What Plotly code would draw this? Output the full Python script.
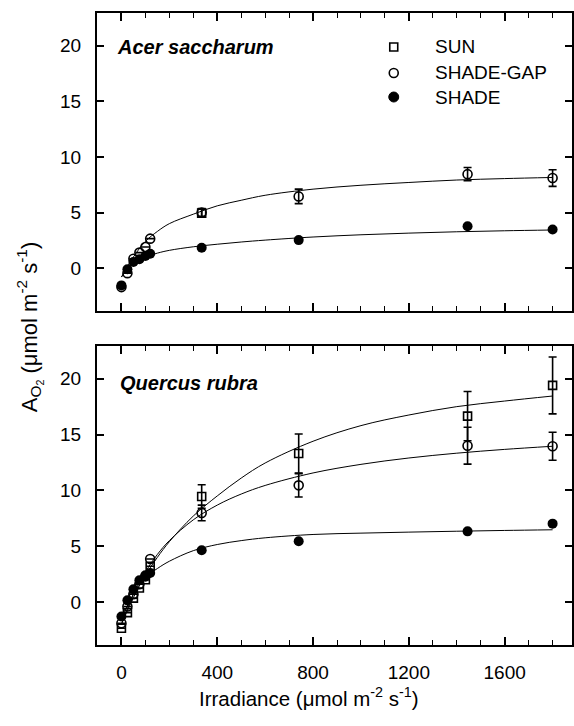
import plotly.graph_objects as go

# ---------------- data ----------------
irr = [0, 25, 50, 75, 100, 120, 335, 740, 1445, 1800]

# Acer saccharum
acer_sun_x = [335]
acer_sun = [4.95]
acer_sun_err = [0.35]
acer_gap = [-1.7, -0.45, 0.85, 1.4, 1.9, 2.65, 5.0, 6.45, 8.45, 8.1]
acer_gap_err = [None, None, None, None, None, None, 0.35, 0.65, 0.6, 0.75]
acer_shade = [-1.55, -0.1, 0.55, 0.8, 1.1, 1.3, 1.83, 2.52, 3.77, 3.47]

# Quercus rubra
q_sun = [-2.35, -0.95, 0.35, 1.25, 2.0, 3.2, 9.45, 13.3, 16.65, 19.4]
q_sun_err = [None, None, None, None, None, None, 1.05, 1.75, 2.2, 2.55]
q_gap = [-1.9, -0.4, 0.7, 1.6, 2.3, 3.85, 7.98, 10.45, 14.0, 13.95]
q_gap_err = [None, None, None, None, None, None, 0.7, 1.05, 1.65, 1.25]
q_shade = [-1.3, 0.15, 1.15, 1.95, 2.4, 2.6, 4.63, 5.44, 6.33, 7.02]

# fitted curves
fit_x = [0, 50, 100, 150, 200, 300, 400, 500, 600, 800, 1000, 1200, 1400, 1600, 1800]
acer_fit_upper = [-0.8, 1.0, 2.4, 3.3, 4.0, 4.85, 5.6, 6.1, 6.55, 7.1, 7.45, 7.7, 7.92, 8.05, 8.15]
acer_fit_lower = [-0.8, 0.45, 1.0, 1.35, 1.6, 1.92, 2.15, 2.35, 2.52, 2.8, 3.0, 3.15, 3.27, 3.36, 3.43]
q_fit_sun = [-2.0, 0.4, 2.4, 4.0, 5.4, 7.7, 9.5, 11.1, 12.45, 14.4, 15.8, 16.75, 17.5, 18.0, 18.45]
q_fit_gap = [-2.0, 0.69, 2.7, 4.26, 5.5, 7.36, 8.68, 9.67, 10.44, 11.56, 12.33, 12.9, 13.33, 13.67, 13.95]
q_fit_shade = [-1.5, 0.7, 2.2, 3.0, 3.65, 4.6, 5.15, 5.5, 5.75, 6.05, 6.17, 6.26, 6.34, 6.41, 6.47]

legend_labels = ["SUN", "SHADE-GAP", "SHADE"]
y_ticks = [0, 5, 10, 15, 20]
x_ticks = [0, 400, 800, 1200, 1600]

FONT = "Liberation Sans, Arial, Helvetica, sans-serif"
BLACK = "black"

fig = go.Figure()


def fit_line(x, y, xa, ya):
    fig.add_trace(go.Scatter(x=x, y=y, mode="lines", xaxis=xa, yaxis=ya,
                             line=dict(color=BLACK, width=1, shape="spline", smoothing=1.0),
                             showlegend=False, hoverinfo="skip"))


def err(arr):
    return dict(type="data", array=arr, visible=True, color=BLACK, thickness=1.6, width=4)


SQ = dict(symbol="square-open", size=8, color=BLACK, line=dict(width=1.6))
OC = dict(symbol="circle-open", size=9, color=BLACK, line=dict(width=1.6))
FC = dict(symbol="circle", size=10, color=BLACK)

# ----- top panel (Acer saccharum) -----
fit_line(fit_x, acer_fit_upper, "x", "y")
fit_line(fit_x, acer_fit_lower, "x", "y")
fig.add_trace(go.Scatter(x=acer_sun_x, y=acer_sun, mode="markers", xaxis="x", yaxis="y",
                         name=legend_labels[0], error_y=err(acer_sun_err), marker=SQ))
fig.add_trace(go.Scatter(x=irr, y=acer_gap, mode="markers", xaxis="x", yaxis="y",
                         name=legend_labels[1], error_y=err(acer_gap_err), marker=OC))
fig.add_trace(go.Scatter(x=irr, y=acer_shade, mode="markers", xaxis="x", yaxis="y",
                         name=legend_labels[2], marker=FC))

# ----- bottom panel (Quercus rubra) -----
fit_line(fit_x, q_fit_sun, "x2", "y2")
fit_line(fit_x, q_fit_gap, "x2", "y2")
fit_line(fit_x, q_fit_shade, "x2", "y2")
fig.add_trace(go.Scatter(x=irr, y=q_sun, mode="markers", xaxis="x2", yaxis="y2",
                         name=legend_labels[0], error_y=err(q_sun_err), marker=SQ))
fig.add_trace(go.Scatter(x=irr, y=q_gap, mode="markers", xaxis="x2", yaxis="y2",
                         name=legend_labels[1], error_y=err(q_gap_err), marker=OC))
fig.add_trace(go.Scatter(x=irr, y=q_shade, mode="markers", xaxis="x2", yaxis="y2",
                         name=legend_labels[2], marker=FC))

# ----- geometry helpers -----
L, R, T, B = 97, 0, 13, 81
W, H = 574, 726
PH = H - T - B
PW = W - L - R


def py(pix):
    return (H - B - pix) / PH


def px(pix):
    return (pix - L) / PW


xcommon = dict(range=[-102, 1881], tickvals=x_ticks, ticks="inside", ticklen=8, tickwidth=1.5,
               showline=True, linewidth=2, linecolor=BLACK, mirror="allticks", tickcolor=BLACK,
               showgrid=False, zeroline=False,
               minor=dict(dtick=100, tick0=0, ticks="inside", ticklen=5, tickwidth=1.3,
                          tickcolor=BLACK, showgrid=False),
               tickfont=dict(family=FONT, size=19, color=BLACK), ticklabelstandoff=9)
ycommon = dict(range=[-3.85, 22.93], tickvals=y_ticks, ticks="inside", ticklen=7, tickwidth=1.5,
               showline=True, linewidth=2, linecolor=BLACK, mirror="allticks", tickcolor=BLACK,
               showgrid=False, zeroline=False,
               tickfont=dict(family=FONT, size=19, color=BLACK), ticklabelstandoff=10)

top_dom = [py(311), 1.0]
bot_dom = [0.0, py(346)]

# ----- manual legend (glyphs + labels) -----
leg_rows = [47, 73, 97]
leg_sym_x = 395
shapes = [
    dict(type="rect", xref="paper", yref="paper",
         x0=px(leg_sym_x - 4), x1=px(leg_sym_x + 4), y0=py(leg_rows[0] + 4), y1=py(leg_rows[0] - 4),
         line=dict(color=BLACK, width=1.6), fillcolor="rgba(0,0,0,0)"),
    dict(type="circle", xref="paper", yref="paper",
         x0=px(leg_sym_x - 4.5), x1=px(leg_sym_x + 4.5), y0=py(leg_rows[1] + 4.5), y1=py(leg_rows[1] - 4.5),
         line=dict(color=BLACK, width=1.6), fillcolor="rgba(0,0,0,0)"),
    dict(type="circle", xref="paper", yref="paper",
         x0=px(leg_sym_x - 5), x1=px(leg_sym_x + 5), y0=py(leg_rows[2] + 5), y1=py(leg_rows[2] - 5),
         line=dict(color=BLACK, width=1), fillcolor=BLACK),
]

annotations = [
    dict(text=f"{lab}", xref="paper", yref="paper", x=px(434), y=py(row),
         xanchor="left", yanchor="middle", showarrow=False,
         font=dict(family=FONT, size=19, color=BLACK))
    for lab, row in zip(legend_labels, leg_rows)
]
annotations += [
    dict(text="<b><i>Acer saccharum</i></b>", xref="paper", yref="paper",
         x=px(115), y=py(47), xanchor="left", yanchor="middle", showarrow=False,
         font=dict(family=FONT, size=20, color=BLACK)),
    dict(text="<b><i>Quercus rubra</i></b>", xref="paper", yref="paper",
         x=px(118), y=py(383), xanchor="left", yanchor="middle", showarrow=False,
         font=dict(family=FONT, size=20, color=BLACK)),
    dict(text="A<sub>O<sub>2</sub></sub> (\u03bcmol m<sup>-2</sup> s<sup>-1</sup>)",
         xref="paper", yref="paper", x=px(29), y=py(327), xanchor="center", yanchor="middle",
         textangle=-90, showarrow=False, font=dict(family=FONT, size=22, color=BLACK)),
    dict(text="Irradiance (\u03bcmol m<sup>-2</sup> s<sup>-1</sup>)",
         xref="paper", yref="paper", x=px(310), y=py(697), xanchor="center", yanchor="middle",
         showarrow=False, font=dict(family=FONT, size=20.5, color=BLACK)),
]

fig.update_layout(
    width=W, height=H,
    margin=dict(l=L, r=R, t=T, b=B),
    paper_bgcolor="white", plot_bgcolor="white",
    font=dict(family=FONT, color=BLACK),
    xaxis=dict(xcommon, anchor="y", showticklabels=False),
    yaxis=dict(ycommon, anchor="x", domain=top_dom),
    xaxis2=dict(xcommon, anchor="y2"),
    yaxis2=dict(ycommon, anchor="x2", domain=bot_dom),
    showlegend=False,
    shapes=shapes,
    annotations=annotations,
)

fig.write_html("out.html")
